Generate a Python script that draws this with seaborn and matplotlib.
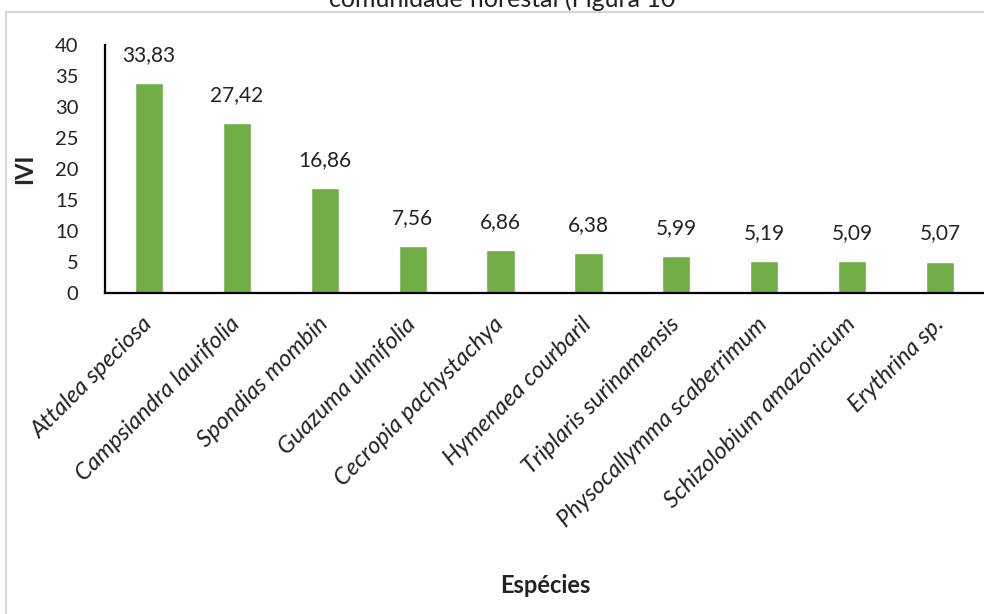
import matplotlib
matplotlib.use("Agg")
import matplotlib.pyplot as plt
import seaborn as sns
import pandas as pd
from matplotlib.patches import Rectangle

species = [
    "Attalea speciosa", "Campsiandra laurifolia", "Spondias mombin",
    "Guazuma ulmifolia", "Cecropia pachystachya", "Hymenaea courbaril",
    "Triplaris surinamensis", "Physocallymma scaberrimum",
    "Schizolobium amazonicum", "Erythrina sp.",
]
ivi = [33.83, 27.42, 16.86, 7.56, 6.86, 6.38, 5.99, 5.19, 5.09, 5.07]
yticks = [0, 5, 10, 15, 20, 25, 30, 35, 40]

sns.set_theme(style="white")
plt.rcParams["font.family"] = ["Lato", "DejaVu Sans"]

df = pd.DataFrame({"Espécies": species, "IVI": ivi})

fig = plt.figure(figsize=(9.84, 6.14), dpi=100)
ax = fig.add_axes([0.1067, 0.5228, 0.8933, 0.4039])

sns.barplot(data=df, x="Espécies", y="IVI", color="#70AD47", saturation=1,
            width=0.32, ax=ax)

# value labels above each bar
for i, v in enumerate(ivi):
    ax.annotate(f"{v:.2f}".replace(".", ","), xy=(i, v), xytext=(0, 16),
                textcoords="offset points", ha="center", va="baseline",
                fontsize=15, color="#222222")

ax.set_ylim(0, 40)
ax.set_xlim(-0.5, len(species) - 0.5)
ax.set_yticks(yticks)
ax.set_yticklabels([str(t) for t in yticks], fontsize=14.5, color="#222222")
ax.set_xticks(range(len(species)))
ax.set_xticklabels(species, rotation=45, ha="right", va="center",
                   rotation_mode="anchor", fontsize=17, style="italic",
                   color="#222222")
ax.tick_params(axis="both", length=0)
ax.tick_params(axis="x", pad=20)
ax.tick_params(axis="y", pad=19)

for s in ["top", "right"]:
    ax.spines[s].set_visible(False)
for s in ["left", "bottom"]:
    ax.spines[s].set_color("black")
    ax.spines[s].set_linewidth(1.6)

ax.set_xlabel("")
ax.set_ylabel("IVI", fontsize=17, fontweight="bold", va="center")
ax.yaxis.set_label_coords(-0.091, 0.5)

fig.text(0.554, 0.047, "Espécies", ha="center", va="center",
         fontsize=17, fontweight="bold", color="#222222")

# surrounding frame
fig.add_artist(Rectangle((0.0065, -0.05), 1.05, 0.05 + 0.981,
                         transform=fig.transFigure, fill=False,
                         edgecolor="#d6d6d6", linewidth=1.5))

fig.text(0.51, 0.989, "comunidade florestal (Figura 10", ha="center",
         va="baseline", fontsize=18, color="#222222")

fig.savefig("out.png", dpi=100)
